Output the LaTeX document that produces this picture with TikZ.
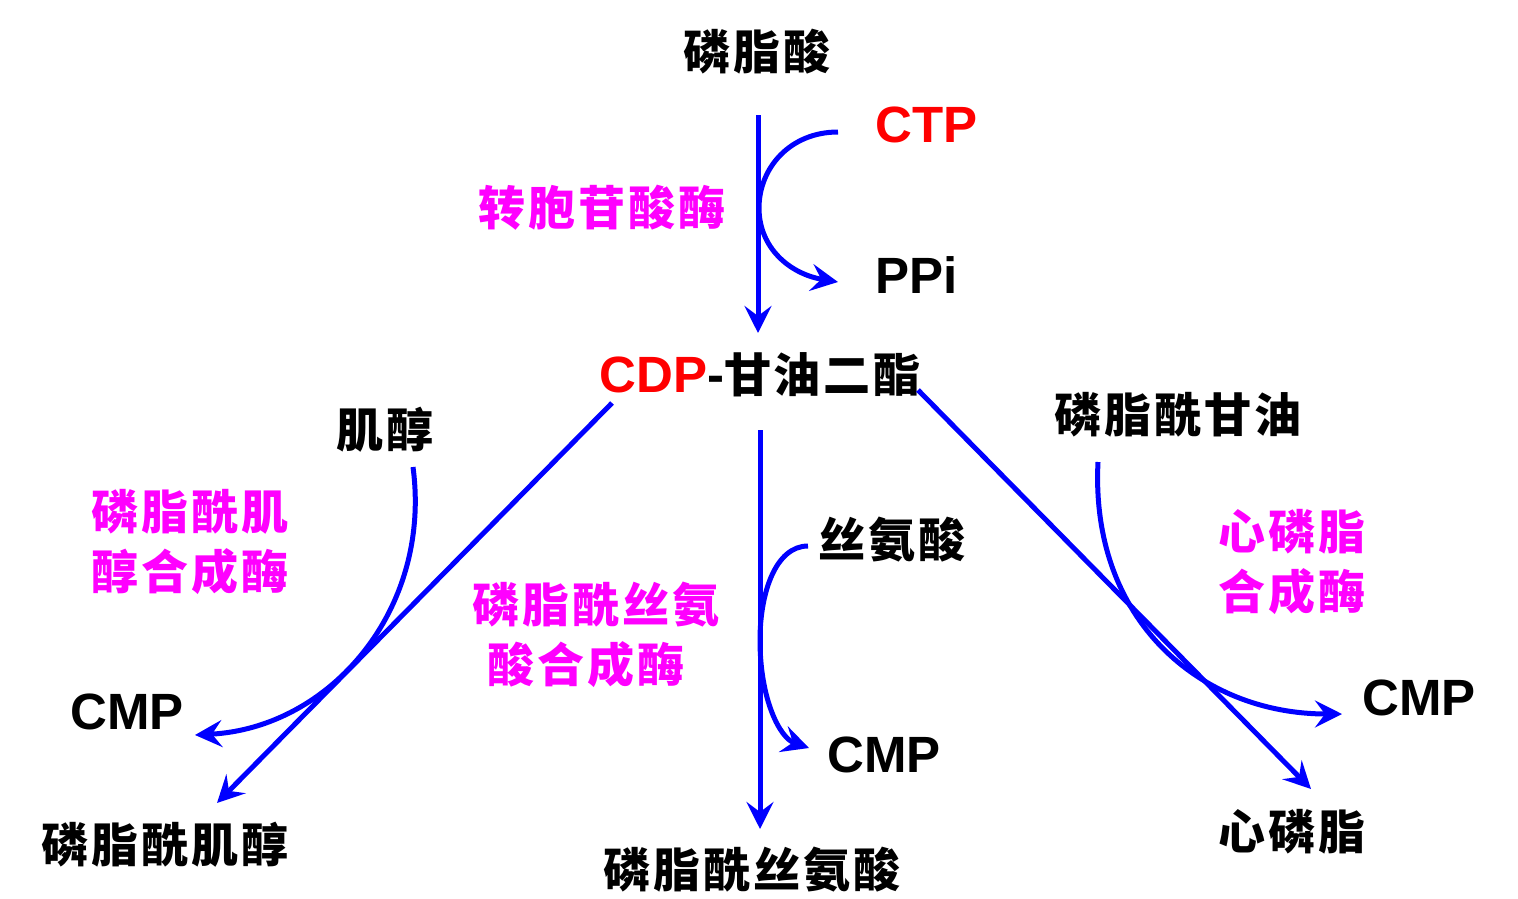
\documentclass[tikz,border=0pt]{standalone}
\usepackage{fontspec}
\usetikzlibrary{arrows.meta}
\newfontfamily\cjk{Noto Sans CJK SC}[LetterSpace=6]
\newfontfamily\arl{Liberation Sans}[BoldFont={Liberation Sans Bold}]
\definecolor{mgt}{RGB}{255,0,255}
\definecolor{bl}{RGB}{0,0,255}
\definecolor{rd}{RGB}{255,0,0}
\begin{document}
\begin{tikzpicture}[x=1pt,y=-1pt,
  cn/.style={font=\cjk\bfseries\fontsize{47}{60}\selectfont, inner sep=0pt, align=center},
  enz/.style={cn, text=mgt},
  lat/.style={font=\arl\bfseries\fontsize{51}{60}\selectfont, inner sep=0pt, anchor=west},
  arr/.style={draw=bl, line width=5pt, -{Stealth[length=27pt,width=27pt,inset=10pt]}}]
\useasboundingbox (0,0) rectangle (1518,899);
% texts
\node[cn] (pa) at (757,52) {磷脂酸};
\node[lat, text=rd] (ctp) at (875,125) {CTP};
\node[enz] (e1) at (602,208) {转胞苷酸酶};
\node[lat] (ppi) at (875,275) {PPi};
\node[inner sep=0pt] (cdp) at (760,375) {{\arl\bfseries\fontsize{51}{60}\selectfont\textcolor{rd}{CDP}-}{\cjk\bfseries\fontsize{47}{60}\selectfont 甘油二酯}};
\node[cn] (ino) at (385,430) {肌醇};
\node[enz] (e2) at (190,542) {磷脂酰肌\\醇合成酶};
\node[cn] (pg) at (1178,415) {磷脂酰甘油};
\node[cn] (ser) at (892,540) {丝氨酸};
\node[enz] (e3a) at (596,605) {磷脂酰丝氨};
\node[enz] (e3b) at (586,665) {酸合成酶};
\node[enz] (e4) at (1292,562) {心磷脂\\合成酶};
\node[lat] (cmp1) at (70,712) {CMP};
\node[lat] (cmp2) at (827,755) {CMP};
\node[lat] (cmp3) at (1362,698) {CMP};
\node[cn] (pi) at (165,845) {磷脂酰肌醇};
\node[cn] (ps) at (752,870) {磷脂酰丝氨酸};
\node[cn] (cl) at (1292,832) {心磷脂};
% connector end points
\coordinate (v1s) at (758,115);
\coordinate (v1e) at (758,333);
\coordinate (c1s) at (838,132);
\coordinate (c1m) at (759,208);
\coordinate (c1e) at (838,282);
\coordinate (l1s) at (612,403);
\coordinate (l1e) at (217,803);
\coordinate (c2s) at (413,467);
\coordinate (c2e) at (195,735);
\coordinate (v2s) at (760,430);
\coordinate (v2e) at (760,829);
\coordinate (c3s) at (808,546);
\coordinate (c3m) at (760,640);
\coordinate (c3e) at (809,748);
\coordinate (l2s) at (918,390);
\coordinate (l2e) at (1311,789);
\coordinate (c4s) at (1098,462);
\coordinate (c4e) at (1342,714);
% connectors
\draw[arr] (v1s) -- (v1e);
\draw[arr] (c1s) .. controls (790,132) and (759,168) .. (c1m) .. controls (759,248) and (790,274) .. (c1e);
\draw[arr] (l1s) -- (l1e);
\draw[arr] (c2s) .. controls (432,610) and (330,728) .. (c2e);
\draw[arr] (v2s) -- (v2e);
\draw[arr] (c3s) .. controls (776,546) and (760,592) .. (c3m) .. controls (760,700) and (780,738) .. (c3e);
\draw[arr] (l2s) -- (l2e);
\draw[arr] (c4s) .. controls (1090,620) and (1200,714) .. (c4e);
\end{tikzpicture}
\end{document}
